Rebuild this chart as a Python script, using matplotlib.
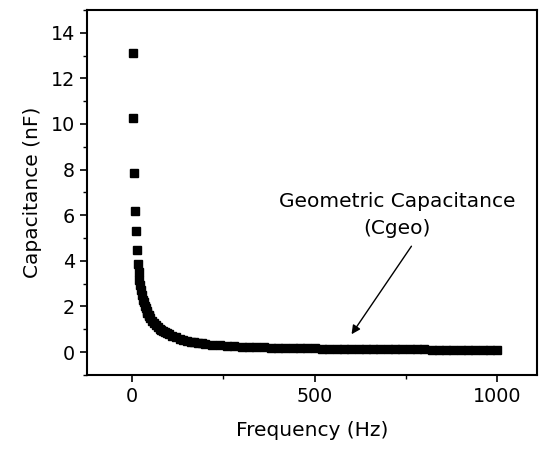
import matplotlib
matplotlib.use('Agg')
import matplotlib.pyplot as plt
from matplotlib.ticker import MultipleLocator

plt.rcParams['font.family'] = ['DejaVu Sans']

# frequency (Hz) and capacitance (nF)
freq = [1, 3, 5, 8, 10, 13, 16, 18, 20, 22, 25, 27, 30, 32, 35, 37, 40, 42, 45,
        47, 50, 55, 60, 65, 70, 75, 80, 85, 90, 95,
        100, 110, 120, 130, 140, 150, 160, 170, 180, 190, 200, 220, 240, 260,
        280, 300, 320, 340, 360, 380, 400, 420, 440, 460, 480, 500, 520, 540,
        560, 580, 600, 620, 640, 660, 680, 700, 720, 740, 760, 780, 800, 820,
        840, 860, 880, 900, 920, 940, 960, 980, 1000]
cap = [13.1, 10.25, 7.86, 6.19, 5.29, 4.49, 3.84, 3.5, 3.15, 2.95, 2.7, 2.52,
       2.3, 2.18, 2.0, 1.92, 1.8, 1.72, 1.62, 1.56, 1.48, 1.37, 1.27, 1.18, 1.1,
       1.03, 0.97, 0.92, 0.87, 0.82,
       0.78, 0.7, 0.64, 0.58, 0.53, 0.49,
       0.46, 0.43, 0.4, 0.38, 0.35, 0.32, 0.29, 0.27, 0.25, 0.23, 0.22, 0.21,
       0.2, 0.19, 0.18, 0.18, 0.17, 0.17, 0.16, 0.16, 0.15, 0.15, 0.15, 0.14,
       0.14, 0.14, 0.13, 0.13, 0.13, 0.13, 0.12, 0.12, 0.12, 0.12, 0.12, 0.11,
       0.11, 0.11, 0.11, 0.11, 0.1, 0.1, 0.1, 0.1, 0.1]

fig = plt.figure(figsize=(5.43, 4.5), dpi=100)
ax = fig.add_axes([0.160, 0.167, 0.829, 0.811])

ax.plot(freq, cap, linestyle='none', marker='s', markersize=6.2, color='black')

ax.set_xlim(-124, 1109)
ax.set_ylim(-1, 15)
ax.xaxis.set_major_locator(MultipleLocator(500))
ax.xaxis.set_minor_locator(MultipleLocator(250))
ax.yaxis.set_major_locator(MultipleLocator(2))
ax.yaxis.set_minor_locator(MultipleLocator(1))
ax.tick_params(which='major', direction='out', length=5, width=1.2, labelsize=13.8)
ax.tick_params(which='minor', direction='out', length=3, width=1.0)
for s in ax.spines.values():
    s.set_linewidth(1.5)

ax.set_xlabel('Frequency (Hz)', fontsize=14.5, labelpad=11)
ax.set_ylabel('Capacitance (nF)', fontsize=14.5, labelpad=6)

ax.text(725, 5.0, 'Geometric Capacitance\n(Cgeo)', fontsize=14.5,
        ha='center', va='bottom', linespacing=1.55)
ax.annotate('', xy=(601, 0.78), xytext=(765, 4.64),
            arrowprops=dict(arrowstyle='-|>', color='black', lw=1.0,
                            mutation_scale=13, shrinkA=0, shrinkB=0))

fig.savefig('out.png', dpi=100)
